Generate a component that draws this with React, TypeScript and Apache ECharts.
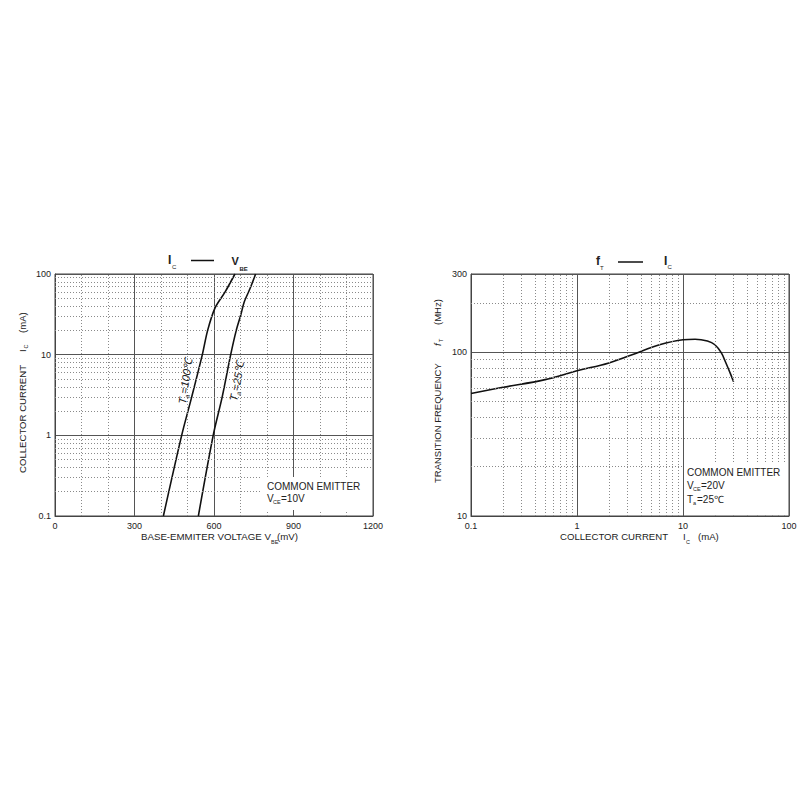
import { useEffect, useRef } from 'react'
import * as echarts from 'echarts'

// IC - VBE (left chart)
const icAt100 = [0.1, 1, 3, 10, 20, 38, 60, 100]
const vbeAt100 = [409, 478, 516, 556, 576, 604, 642, 679]
const icAt25 = [0.1, 1, 3, 10, 20, 31, 45, 66, 100]
const vbeAt25 = [541, 597, 631, 663, 684, 701, 714, 736, 757]
const vbeMinorLines = [100, 200, 400, 500, 700, 800, 1000, 1100]
const icMinorLines = [0.2, 0.3, 0.4, 0.5, 0.6, 0.7, 0.8, 0.9, 2, 3, 4, 5, 6, 7, 8, 9, 20, 30, 40, 50, 60, 70, 80, 90]

// fT - IC (right chart)
const icValues = [0.1, 0.2, 0.5, 1, 2, 4, 6, 10, 13, 17, 20, 23, 25, 28, 30]
const ftValues = [56, 61, 68, 77, 86, 101, 111, 119, 120, 117, 111, 99, 88, 74, 66]
const ftMinorLines = [20, 30, 40, 50, 60, 70, 80, 90, 200]

const FONT = '"Liberation Sans", Arial, sans-serif'
const MAJOR = '#555'
const MINOR = '#8a8a8a'

const t = (text: string, x: number, y: number, size: number, extra: any = {}) => ({
  type: 'text',
  x,
  y,
  z: 100,
  style: {
    text,
    fontSize: size,
    fontFamily: FONT,
    fill: '#222',
    align: 'left',
    verticalAlign: 'middle',
    ...extra
  }
})

const fmt = (v: number) => String(Number(v.toPrecision(4)))

const App = () => {
  const chartRef = useRef<HTMLDivElement>(null)

  useEffect(() => {
    if (!chartRef.current) return
    const chart = echarts.init(chartRef.current, null, { renderer: 'svg' })

    const minorStyle = { type: [1, 2], color: MINOR, width: 1 }
    const axisLabel = { fontSize: 9, fontFamily: FONT, color: '#222' }

    chart.setOption({
      animation: false,
      grid: [
        { left: 55, top: 274, width: 318, height: 242, show: true, borderColor: '#444', borderWidth: 1 },
        { left: 471, top: 274, width: 318, height: 242, show: true, borderColor: '#444', borderWidth: 1 }
      ],
      xAxis: [
        {
          type: 'value',
          gridIndex: 0,
          min: 0,
          max: 1200,
          interval: 300,
          axisLine: { lineStyle: { color: '#444' } },
          axisTick: { show: false },
          axisLabel: { ...axisLabel, margin: 5, formatter: (v: number) => String(v) },
          splitLine: { show: true, lineStyle: { color: MAJOR, width: 1 } }
        },
        {
          type: 'log',
          gridIndex: 1,
          logBase: 10,
          min: 0.1,
          max: 100,
          axisLine: { lineStyle: { color: '#444' } },
          axisTick: { show: false },
          axisLabel: { ...axisLabel, margin: 5, formatter: fmt },
          splitLine: { show: true, lineStyle: { color: MAJOR, width: 1 } }
        }
      ],
      yAxis: [
        {
          type: 'log',
          gridIndex: 0,
          logBase: 10,
          min: 0.1,
          max: 100,
          axisLine: { lineStyle: { color: '#444' } },
          axisTick: { show: false },
          axisLabel: { ...axisLabel, margin: 4, formatter: fmt },
          splitLine: { show: true, lineStyle: { color: MAJOR, width: 1 } }
        },
        {
          type: 'log',
          gridIndex: 1,
          logBase: 10,
          min: 10,
          max: 300,
          axisLine: { lineStyle: { color: '#444' } },
          axisTick: { show: false },
          axisLabel: { ...axisLabel, margin: 4, formatter: fmt },
          splitLine: { show: true, lineStyle: { color: MAJOR, width: 1 } }
        }
      ],
      series: [
        {
          type: 'line',
          xAxisIndex: 0,
          yAxisIndex: 0,
          data: vbeAt100.map((v, i) => [v, icAt100[i]]),
          smooth: 0.3,
          showSymbol: false,
          lineStyle: { color: '#111', width: 1.6 },
          markLine: {
            silent: true,
            symbol: 'none',
            label: { show: false },
            lineStyle: minorStyle,
            data: [
              ...vbeMinorLines.map((v) => ({ xAxis: v })),
              ...icMinorLines.map((v) => ({ yAxis: v }))
            ]
          }
        },
        {
          type: 'line',
          xAxisIndex: 0,
          yAxisIndex: 0,
          data: vbeAt25.map((v, i) => [v, icAt25[i]]),
          smooth: 0.3,
          showSymbol: false,
          lineStyle: { color: '#111', width: 1.6 }
        },
        {
          type: 'line',
          xAxisIndex: 1,
          yAxisIndex: 1,
          data: icValues.map((v, i) => [v, ftValues[i]]),
          smooth: 0.4,
          showSymbol: false,
          lineStyle: { color: '#111', width: 1.6 },
          markLine: {
            silent: true,
            symbol: 'none',
            label: { show: false },
            lineStyle: minorStyle,
            data: [
              ...icMinorLines.map((v) => ({ xAxis: v })),
              ...ftMinorLines.map((v) => ({ yAxis: v }))
            ]
          }
        }
      ],
      graphic: [
        // left title
        t('I', 168, 260, 12, { fontWeight: 'bold' }),
        t('C', 172, 267, 6),
        { type: 'line', z: 100, shape: { x1: 191, y1: 260.5, x2: 214, y2: 260.5 }, style: { stroke: '#111', lineWidth: 1.5 } },
        t('V', 231.5, 260.5, 11, { fontWeight: 'bold' }),
        t('BE', 239.5, 268.5, 6, { fontWeight: 'bold' }),
        // right title
        t('f', 596, 260.5, 12, { fontWeight: 'bold' }),
        t('T', 600, 267.5, 6),
        { type: 'line', z: 100, shape: { x1: 618, y1: 262, x2: 643, y2: 262 }, style: { stroke: '#111', lineWidth: 1.5 } },
        t('I', 664, 261, 12, { fontWeight: 'bold' }),
        t('C', 667.5, 267, 6),
        // left axis names
        {
          type: 'group',
          x: 22,
          y: 473,
          rotation: Math.PI / 2,
          children: [
            t('COLLECTOR CURRENT', 0, 0, 9.6),
            t('I', 121, 0, 9.6),
            t('C', 124.5, 4, 5.5),
            t('(mA)', 140, 0, 9.6)
          ]
        },
        t('BASE-EMMITER VOLTAGE V', 141, 536, 9.7),
        t('BE', 271, 541.5, 5.5),
        t('(mV)', 277, 536, 9.7),
        // right axis names
        {
          type: 'group',
          x: 437,
          y: 483,
          rotation: Math.PI / 2,
          children: [
            t('TRANSITION FREQUENCY', 0, 0, 9.5),
            t('f', 137, 0, 9.5, { fontStyle: 'italic' }),
            t('T', 141, 4, 5.5),
            t('(MHz)', 158, 0, 9.5)
          ]
        },
        t('COLLECTOR CURRENT', 560, 536, 9.6),
        t('I', 683, 536, 9.6),
        t('C', 686, 541.5, 5.5),
        t('(mA)', 698, 536, 9.6),
        // curve labels
        {
          type: 'group',
          x: 182,
          y: 404,
          rotation: 1.43,
          children: [
            t('T', 0, 0, 11, { fontStyle: 'italic' }),
            t('a', 6.5, 4, 6.5, { fontStyle: 'italic' }),
            t('=100℃', 10.5, 0, 11, { fontStyle: 'italic' })
          ]
        },
        {
          type: 'group',
          x: 233,
          y: 401,
          rotation: 1.38,
          children: [
            t('T', 0, 0, 11, { fontStyle: 'italic' }),
            t('a', 6.5, 4, 6.5, { fontStyle: 'italic' }),
            t('=25℃', 10.5, 0, 11, { fontStyle: 'italic' })
          ]
        },
        // left condition box
        { type: 'rect', z: 90, shape: { x: 261, y: 477, width: 111, height: 33 }, style: { fill: '#fff' } },
        t('COMMON EMITTER', 267, 486, 10),
        t('V', 267, 498.5, 10),
        t('CE', 273, 502, 5.5),
        t('=10V', 281, 498.5, 10),
        // right condition box
        { type: 'rect', z: 90, shape: { x: 684, y: 463, width: 104, height: 52 }, style: { fill: '#fff' } },
        t('COMMON EMITTER', 687, 472, 10),
        t('V', 687, 485, 10),
        t('CE', 693, 488.5, 5.5),
        t('=20V', 701, 485, 10),
        t('T', 687, 499, 10),
        t('a', 693, 502.5, 5.5),
        t('=25℃', 697, 499, 10)
      ]
    })

    return () => {
      chart.dispose()
    }
  }, [])

  return (
    <div
      ref={chartRef}
      style={{ position: 'absolute', left: 0, top: 0, width: 800, height: 800, background: '#fff' }}
    />
  )
}

export default App
